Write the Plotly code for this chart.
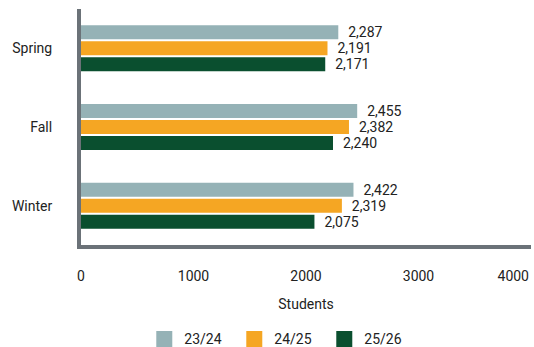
import plotly.graph_objects as go

terms = ["Spring", "Fall", "Winter"]
series_names = ["23/24", "24/25", "25/26"]
values_2324 = [2287, 2455, 2422]
values_2425 = [2191, 2382, 2319]
values_2526 = [2171, 2240, 2075]
x_tick_values = [0, 1000, 2000, 3000]
x_last_tick = [4000]
x_title = "Students"

colors = ["#95b2b6", "#f5a623", "#0a4f2f"]
FONT = "Roboto, sans-serif"
TEXT = "#222222"
AXIS = "#6b7278"

fig = go.Figure()
for name, vals, col in zip(series_names, [values_2324, values_2425, values_2526], colors):
    fig.add_trace(go.Bar(
        x=vals, y=terms, orientation="h", name=name,
        marker=dict(color=col, line=dict(width=0)),
        text=[f"{v:,}" for v in vals], texttemplate="\u00a0\u00a0%{text}",
        textposition="outside", constraintext="none", cliponaxis=False,
        textfont=dict(size=14, color=TEXT, family=FONT),
        showlegend=False, hoverinfo="skip",
    ))
for name, col in zip(series_names, colors):
    fig.add_trace(go.Scatter(
        x=[None], y=[None], mode="markers", name=name, xaxis="x2",
        marker=dict(symbol="square", size=16, color=col),
    ))

fig.update_layout(
    width=534, height=347,
    margin=dict(l=81, r=3, t=9, b=102),
    paper_bgcolor="white", plot_bgcolor="white",
    font=dict(family=FONT, size=14, color=TEXT),
    barmode="group", bargap=0.39, bargroupgap=0.125,
    xaxis=dict(
        range=[0, 4000], tickvals=x_tick_values, showline=True, linecolor=AXIS, linewidth=4,
        showgrid=False, zeroline=False, ticks="", tickfont=dict(size=14, color=TEXT),
        title=dict(text=x_title, font=dict(size=14, color=TEXT), standoff=17),
        ticklabelstandoff=15, automargin=False,
    ),
    xaxis2=dict(
        range=[0, 4000], overlaying="x", anchor="y", side="bottom",
        tickvals=x_last_tick, ticklabelposition="outside left",
        showline=True, linecolor=AXIS, linewidth=4,
        showgrid=False, zeroline=False, ticks="", tickfont=dict(size=14, color=TEXT),
        ticklabelstandoff=15, automargin=False,
    ),
    yaxis=dict(
        categoryorder="array", categoryarray=terms, autorange="reversed",
        showline=True, linecolor=AXIS, linewidth=4, showgrid=False, zeroline=False,
        ticks="", tickfont=dict(size=14, color=TEXT), ticklabelstandoff=22, automargin=False,
    ),
    legend=dict(
        orientation="h", xref="container", x=0.523, xanchor="center",
        yref="container", y=0.022, yanchor="middle",
        font=dict(size=14, color=TEXT), entrywidth=45,
    ),
)

fig.write_html("out.html", config={"displayModeBar": False},
               post_script="document.body.style.margin='0';")
